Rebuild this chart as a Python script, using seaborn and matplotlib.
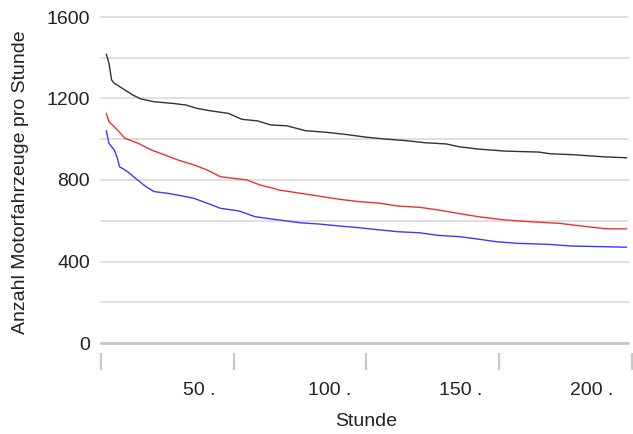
import matplotlib
matplotlib.use("Agg")
import matplotlib.pyplot as plt
import seaborn as sns
import pandas as pd

# ---- data ----
black_hours = [2, 3, 4, 5, 8, 12, 15, 20, 27, 32, 36, 41, 48, 53, 59, 64, 70, 77, 85, 92,
               100, 107, 115, 122, 130, 135, 142, 152, 165, 169, 178, 189, 198]
black_vals = [1418, 1373, 1291, 1275, 1250, 1217, 1198, 1184, 1176, 1168, 1152, 1140, 1127,
              1098, 1090, 1070, 1066, 1042, 1034, 1024, 1010, 1001, 993, 983, 977, 963, 952,
              942, 937, 929, 924, 914, 909]

red_hours = [2, 3, 5, 9, 14, 19, 24, 29, 35, 40, 45, 50, 55, 60, 65, 67, 75, 82, 90, 97,
             105, 112, 120, 127, 135, 142, 152, 162, 173, 181, 190, 198]
red_vals = [1127, 1086, 1062, 1005, 980, 947, 923, 898, 874, 849, 816, 808, 800, 775, 759,
            751, 735, 721, 705, 694, 686, 672, 666, 653, 635, 620, 604, 595, 587, 574, 561, 560]

blue_hours = [2, 3, 5, 6, 7, 10, 13, 17, 20, 25, 30, 35, 40, 45, 52, 58, 64, 67, 75, 82, 90,
              97, 105, 112, 120, 127, 135, 142, 149, 157, 169, 177, 188, 198]
blue_vals = [1042, 980, 947, 914, 865, 841, 808, 767, 743, 735, 723, 710, 686, 661, 648, 620,
             609, 604, 590, 584, 574, 566, 555, 546, 541, 528, 522, 510, 497, 489, 484, 476,
             473, 470]

y_major = [0, 400, 800, 1200, 1600]
y_minor = [200, 600, 1000, 1400]
x_tick_marks = [0, 50, 100, 150, 200]
x_label_pos = [37, 86, 135.5, 185]
x_labels = ["50 .", "100 .", "150 .", "200 ."]

# ---- style ----
sns.set_style("white")
plt.rcParams["font.family"] = ["Liberation Sans", "DejaVu Sans"]

fig = plt.figure(figsize=(6.33, 4.34), dpi=100)
ax = fig.add_axes([101 / 633, 1 - 343 / 434, 527 / 633, 326 / 434])

for hrs, vals, col in [(black_hours, black_vals, "#333333"),
                       (red_hours, red_vals, "#f03030"),
                       (blue_hours, blue_vals, "#3a3aff")]:
    df = pd.DataFrame({"Stunde": hrs, "Wert": vals})
    sns.lineplot(data=df, x="Stunde", y="Wert", color=col, linewidth=1.0, ax=ax, zorder=3)

ax.set_xlim(0, 198.5)
ax.set_ylim(0, 1600)

# gridlines
for v in y_major + y_minor:
    if v == 0:
        ax.axhline(v, color="#c4c4c4", linewidth=2.0, zorder=2, clip_on=False)
    else:
        ax.axhline(v, color="#dcdcdc", linewidth=1.3, zorder=1, clip_on=False)

ax.set_yticks(y_major)
ax.set_yticklabels([str(v) for v in y_major])
ax.tick_params(axis="y", length=0, pad=8, labelsize=14, labelcolor="#222222")

ax.set_xticks(x_label_pos)
ax.set_xticklabels(x_labels)
ax.tick_params(axis="x", length=0, pad=28, labelsize=14, labelcolor="#222222")

# detached category tick marks below the axis
ax.vlines(x_tick_marks, -0.031, -0.083, transform=ax.get_xaxis_transform(),
          colors="#c8c8c8", linewidth=1.6, clip_on=False)

for s in ax.spines.values():
    s.set_visible(False)

ax.set_xlabel("")
ax.set_ylabel("")
fig.text(366 / 633, 1 - 421 / 434, "Stunde", ha="center", va="center",
         fontsize=14, color="#222222")
fig.text(20.5 / 633, 1 - 182 / 434, "Anzahl Motorfahrzeuge pro Stunde", rotation=90,
         ha="center", va="center", fontsize=14, color="#222222")

fig.savefig("out.png", dpi=100)
